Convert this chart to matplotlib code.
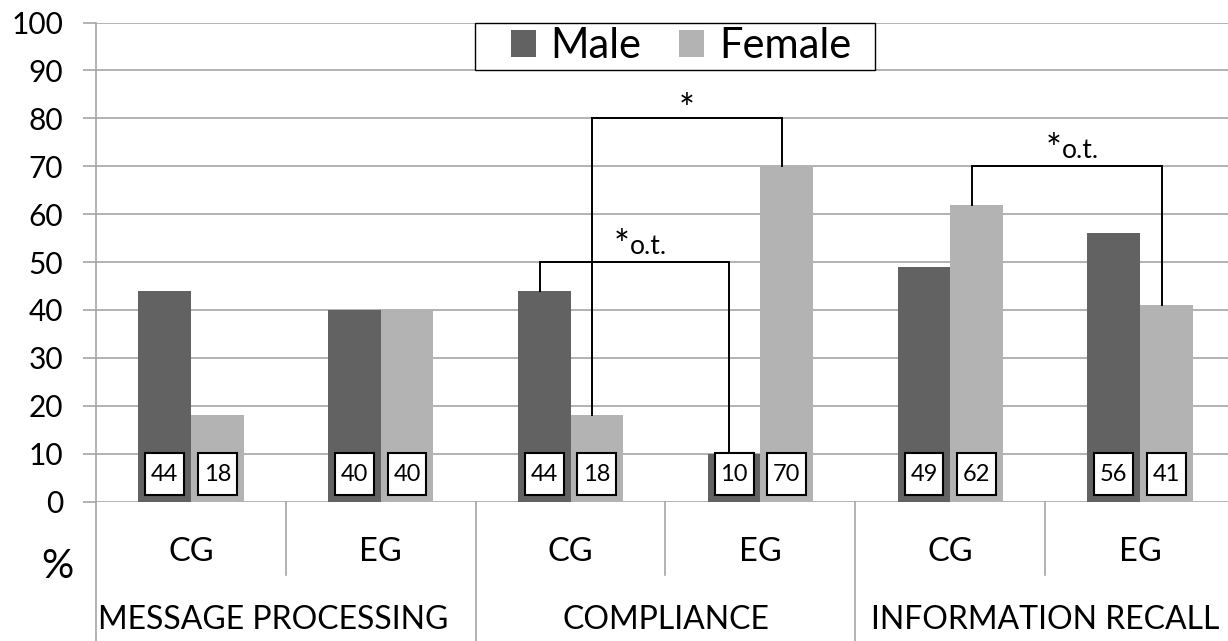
import matplotlib
matplotlib.use("Agg")
import matplotlib.pyplot as plt
from matplotlib.patches import Rectangle
import numpy as np

plt.rcParams['font.family'] = ['Lato', 'DejaVu Sans']

# ---- data -------------------------------------------------------------
groups = ["MESSAGE PROCESSING", "COMPLIANCE", "INFORMATION RECALL"]
conditions = ["CG", "EG", "CG", "EG", "CG", "EG"]
male = [44, 40, 44, 10, 49, 56]
female = [18, 40, 18, 70, 62, 41]
series_names = ["Male", "Female"]
yticks = [0, 10, 20, 30, 40, 50, 60, 70, 80, 90, 100]

# significance brackets: (star, note, (category, series), (category, series), bracket height)
brackets = [
    ("*", "", (2, 1), (3, 1), 80),
    ("*", "o.t.", (2, 0), (3, 0), 50),
    ("*", "o.t.", (4, 1), (5, 1), 70),
]

# ---- style ------------------------------------------------------------
c_male = "#626262"
c_female = "#b3b3b3"
c_grid = "#a6a6a6"
bar_w = 0.277
box_w = 0.205

fig = plt.figure(figsize=(12.28, 6.41), dpi=100)
ax = fig.add_axes([96 / 1228, 139.5 / 641, 1139 / 1228, 479 / 641])

centers = np.arange(len(conditions)) + 0.5
x_m = centers - bar_w / 2
x_f = centers + bar_w / 2
b_m = ax.bar(x_m, male, width=bar_w, color=c_male, zorder=2, label=series_names[0])
b_f = ax.bar(x_f, female, width=bar_w, color=c_female, zorder=2, label=series_names[1])

ax.set_xlim(0, len(conditions))
ax.set_ylim(0, 100)
ax.set_yticks(yticks)
ax.set_yticklabels([str(t) for t in yticks], fontsize=21.5)
ax.tick_params(axis='y', length=9.5, width=1.2, color=c_grid, pad=14)
ax.tick_params(axis='x', length=0, labelbottom=False)
ax.grid(axis='y', color=c_grid, linewidth=1.2, zorder=0)
ax.set_axisbelow(True)
for s in ("top", "right", "bottom"):
    ax.spines[s].set_visible(False)
ax.spines["left"].set_color(c_grid)
ax.spines["left"].set_linewidth(1.2)

# value boxes at the foot of each bar
for xs, vals in ((x_m, male), (x_f, female)):
    for x, v in zip(xs, vals):
        ax.add_patch(Rectangle((x - box_w / 2, 1.35), box_w, 8.75, facecolor="white",
                               edgecolor="black", linewidth=1.5, zorder=4))
        ax.text(x, 5.7, str(v), ha="center", va="center", fontsize=17, zorder=5)

# significance brackets
series_vals = [male, female]
series_x = [x_m, x_f]
for star, note, (c1, s1), (c2, s2), h in brackets:
    xa = series_x[s1][c1] - 0.025
    xb = series_x[s2][c2] - 0.025
    ya = series_vals[s1][c1]
    yb = max(series_vals[s2][c2], 10.1)
    ax.plot([xa, xa, xb, xb], [ya, h, h, yb], color="black", linewidth=1.4,
            zorder=3, solid_joinstyle="miter")
    xm = (xa + xb) / 2
    if not note:
        ax.annotate(star, (xm, h), xytext=(0, -3), textcoords="offset points",
                    ha="center", va="baseline", fontsize=27)
    else:
        ax.annotate(star, (xm, h), xytext=(-3.5, 3), textcoords="offset points",
                    ha="right", va="baseline", fontsize=27)
        ax.annotate(note, (xm, h), xytext=(-3.5, 6), textcoords="offset points",
                    ha="left", va="baseline", fontsize=19)

# legend with its own rectangular frame
ax.add_patch(Rectangle((379 / 1139, 431.5 / 479), 400 / 1139, 47 / 479,
                       transform=ax.transAxes, facecolor="white", edgecolor="black",
                       linewidth=1.0, zorder=5, clip_on=False))
leg = ax.legend(handles=[b_m, b_f], loc="center", bbox_to_anchor=(585 / 1139, 455.5 / 479),
                ncol=2, fontsize=30, frameon=False, borderpad=0,
                handlelength=0.6, handleheight=0.6, handletextpad=0.36,
                columnspacing=0.9, borderaxespad=0)
leg.set_zorder(6)

# category axis below the plot
for i, lab in enumerate(conditions):
    ax.text(centers[i], -10.5, lab, ha="center", va="center", fontsize=23.5, clip_on=False)
for i in range(1, len(conditions)):
    y_end = -15.3 if i % 2 else -32
    ax.plot([i, i], [0, y_end], color=c_grid, linewidth=1.2, clip_on=False)
ax.plot([0, 0], [0, -32], color=c_grid, linewidth=1.2, clip_on=False)
ax.text(0.01, -24.8, groups[0], ha="left", va="center", fontsize=23, clip_on=False)
for g in range(1, len(groups)):
    ax.text(2 * g + 1, -24.8, groups[g], ha="center", va="center", fontsize=23,
            clip_on=False)
ax.text(-0.205, -13.5, "%", ha="center", va="center", fontsize=29, clip_on=False)

fig.savefig("out.png", dpi=100)
